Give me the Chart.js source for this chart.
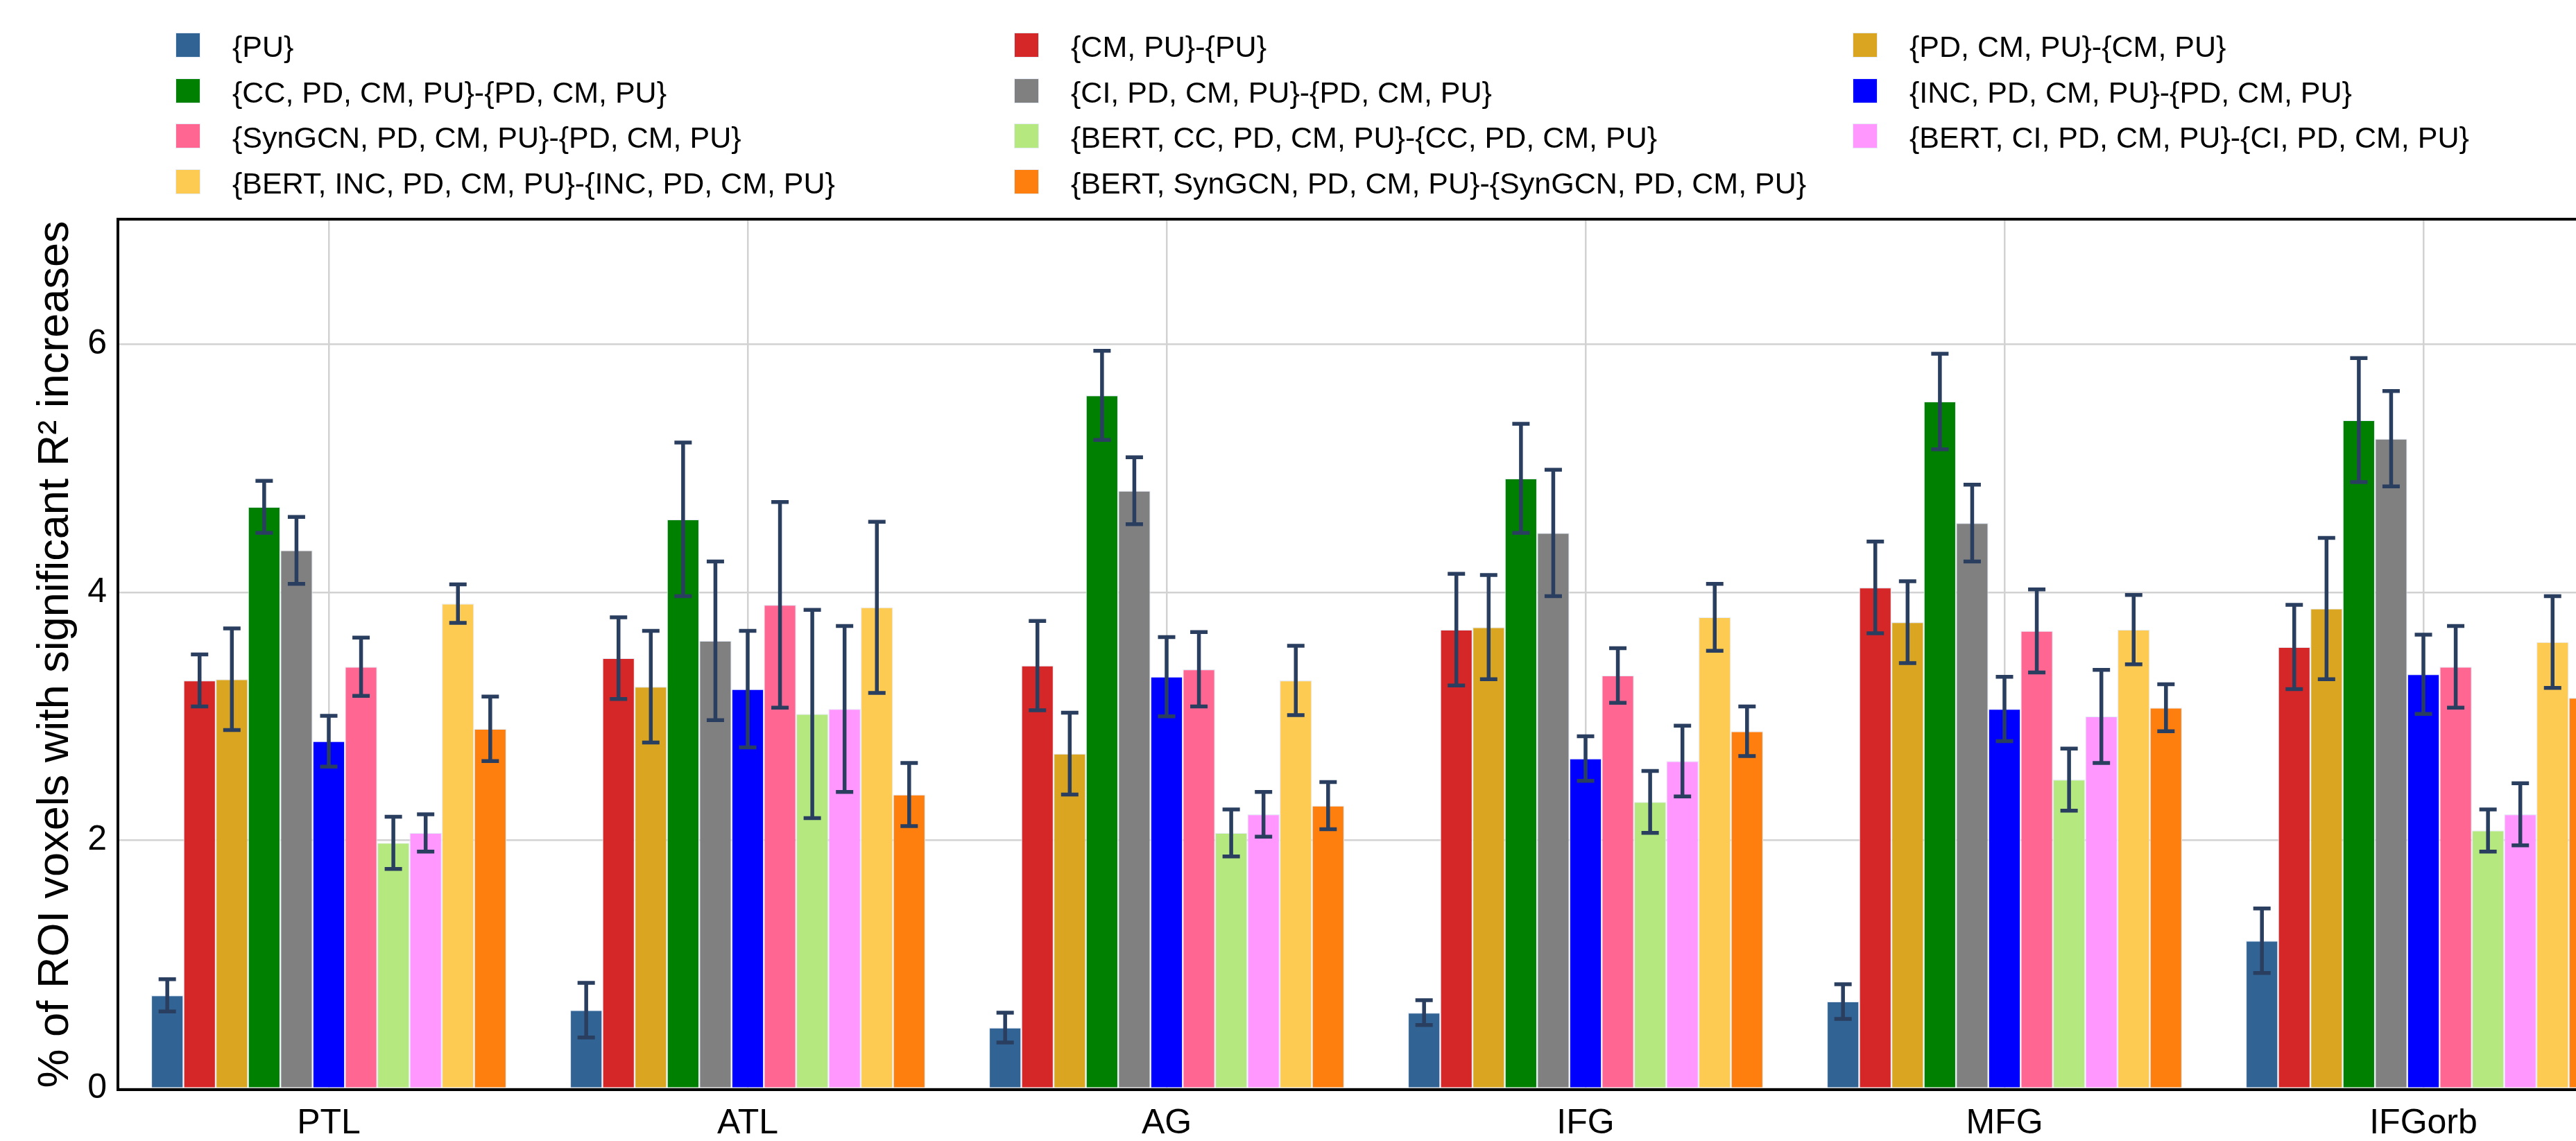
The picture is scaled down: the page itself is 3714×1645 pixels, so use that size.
<!DOCTYPE html>
<html>
<head>
<meta charset="utf-8">
<script src="https://cdn.jsdelivr.net/npm/chart.js@4.4.1/dist/chart.umd.min.js"></script>
<style>
  html, body { margin: 0; padding: 0; background: #ffffff; overflow: hidden; width: 3714px; height: 1645px; }
  #wrap { position: relative; width: 3800px; height: 1645px; }
  #c { position: absolute; left: 0; top: 0; }
  #legend { position: absolute; left: 0; top: 0; width: 3714px; height: 300px; font-family: "Liberation Sans", Arial, sans-serif; font-size: 43px; color: #000; }
  .li { position: absolute; height: 36px; white-space: nowrap; }
  .sw { position: absolute; left: 0; top: 0; width: 34px; height: 34px; border: 1px solid #E5ECF6; }
  .tx { position: absolute; left: 82px; top: -3px; line-height: 46px; }
</style>
</head>
<body>
<div id="wrap">
  <canvas id="c" width="3800" height="1645"></canvas>
  <div id="legend"></div>
</div>
<script>
// ---- data ----
const categories = ['PTL', 'ATL', 'AG', 'IFG', 'MFG', 'IFGorb'];
const seriesLabels = [
  '{PU}',
  '{CM, PU}-{PU}',
  '{PD, CM, PU}-{CM, PU}',
  '{CC, PD, CM, PU}-{PD, CM, PU}',
  '{CI, PD, CM, PU}-{PD, CM, PU}',
  '{INC, PD, CM, PU}-{PD, CM, PU}',
  '{SynGCN, PD, CM, PU}-{PD, CM, PU}',
  '{BERT, CC, PD, CM, PU}-{CC, PD, CM, PU}',
  '{BERT, CI, PD, CM, PU}-{CI, PD, CM, PU}',
  '{BERT, INC, PD, CM, PU}-{INC, PD, CM, PU}',
  '{BERT, SynGCN, PD, CM, PU}-{SynGCN, PD, CM, PU}'
];
const seriesColors = ['#316395', '#D62728', '#DAA520', '#008000', '#808080', '#0000FF',
                      '#FF6692', '#B6E880', '#FF97FF', '#FECB52', '#FF7F0E'];

const puVals        = [0.75, 0.63, 0.49, 0.61, 0.70, 1.19];
const puErr         = [0.13, 0.22, 0.12, 0.10, 0.14, 0.26];
const cmVals        = [3.29, 3.47, 3.41, 3.70, 4.04, 3.56];
const cmErr         = [0.21, 0.33, 0.36, 0.45, 0.37, 0.34];
const pdVals        = [3.30, 3.24, 2.70, 3.72, 3.76, 3.87];
const pdErr         = [0.41, 0.45, 0.33, 0.42, 0.33, 0.57];
const ccVals        = [4.69, 4.59, 5.59, 4.92, 5.54, 5.39];
const ccErr         = [0.21, 0.62, 0.36, 0.44, 0.385, 0.50];
const ciVals        = [4.34, 3.61, 4.82, 4.48, 4.56, 5.24];
const ciErr         = [0.27, 0.64, 0.27, 0.51, 0.31, 0.385];
const incVals       = [2.80, 3.22, 3.32, 2.66, 3.06, 3.34];
const incErr        = [0.205, 0.47, 0.32, 0.18, 0.26, 0.32];
const syngcnVals    = [3.40, 3.90, 3.38, 3.33, 3.69, 3.40];
const syngcnErr     = [0.235, 0.83, 0.30, 0.22, 0.335, 0.33];
const bertCcVals    = [1.98, 3.02, 2.06, 2.31, 2.49, 2.08];
const bertCcErr     = [0.21, 0.84, 0.19, 0.25, 0.25, 0.17];
const bertCiVals    = [2.06, 3.06, 2.21, 2.64, 3.00, 2.21];
const bertCiErr     = [0.15, 0.67, 0.18, 0.285, 0.375, 0.25];
const bertIncVals   = [3.91, 3.88, 3.29, 3.80, 3.70, 3.60];
const bertIncErr    = [0.155, 0.69, 0.28, 0.27, 0.28, 0.37];
const bertSynVals   = [2.90, 2.37, 2.28, 2.88, 3.07, 3.15];
const bertSynErr    = [0.26, 0.255, 0.19, 0.20, 0.19, 0.25];

const yTickValues = [0, 2, 4, 6];
const yAxisTitle = '% of ROI voxels with significant R\u00B2 increases';

const allVals = [puVals, cmVals, pdVals, ccVals, ciVals, incVals, syngcnVals, bertCcVals, bertCiVals, bertIncVals, bertSynVals];
const allErrs = [puErr, cmErr, pdErr, ccErr, ciErr, incErr, syngcnErr, bertCcErr, bertCiErr, bertIncErr, bertSynErr];

// ---- chart ----
const FONT = '"Liberation Sans", Arial, sans-serif';
const AREA = { left: 172, top: 318, right: 3796, bottom: 1569 };
const CW = 3800, CH = 1645;

const datasets = seriesLabels.map((lab, i) => ({
  label: lab,
  data: allVals[i],
  errors: allErrs[i],
  backgroundColor: seriesColors[i],
  borderColor: '#E5ECF6',
  borderWidth: 1.2,
  categoryPercentage: 0.848,
  barPercentage: 1.0
}));

const errorBarPlugin = {
  id: 'errorBars',
  afterDatasetsDraw(chart) {
    const ctx = chart.ctx;
    const ys = chart.scales.y;
    ctx.save();
    ctx.strokeStyle = '#2a3f5f';
    ctx.lineWidth = 5.5;
    ctx.lineCap = 'butt';
    chart.data.datasets.forEach((ds, i) => {
      const meta = chart.getDatasetMeta(i);
      meta.data.forEach((bar, j) => {
        const v = ds.data[j], e = ds.errors[j];
        const x = bar.x;
        const yt = ys.getPixelForValue(v + e);
        const yb = ys.getPixelForValue(v - e);
        const hw = 12.5;
        ctx.beginPath();
        ctx.moveTo(x, yt); ctx.lineTo(x, yb);
        ctx.moveTo(x - hw, yt); ctx.lineTo(x + hw, yt);
        ctx.moveTo(x - hw, yb); ctx.lineTo(x + hw, yb);
        ctx.stroke();
      });
    });
    ctx.restore();
  }
};

const framePlugin = {
  id: 'frame',
  afterDraw(chart) {
    const a = chart.chartArea;
    const ctx = chart.ctx;
    ctx.save();
    ctx.strokeStyle = '#000000';
    ctx.lineWidth = 4;
    ctx.beginPath();
    ctx.rect(a.left - 2, a.top - 2, (a.right - a.left) + 4, (a.bottom - a.top) + 4);
    ctx.stroke();
    ctx.restore();
  }
};

const chart = new Chart(document.getElementById('c'), {
  type: 'bar',
  data: { labels: categories, datasets },
  options: {
    responsive: false,
    animation: false,
    devicePixelRatio: 1,
    layout: { padding: { left: 0, top: AREA.top, right: CW - AREA.right, bottom: 0 } },
    plugins: { legend: { display: false }, tooltip: { enabled: false } },
    scales: {
      x: {
        offset: true,
        grid: { display: true, offset: false, color: '#d2d2d2', lineWidth: 2.5, drawTicks: false },
        border: { display: false },
        ticks: { color: '#000', font: { family: FONT, size: 50 }, padding: 21, maxRotation: 0, autoSkip: false },
        afterFit(scale) { scale.height = CH - AREA.bottom; }
      },
      y: {
        min: 0, max: 7,
        grid: { color: '#d2d2d2', lineWidth: 2.5, drawTicks: false },
        border: { display: false },
        afterBuildTicks(scale) { scale.ticks = yTickValues.map(v => ({ value: v })); },
        ticks: { color: '#000', font: { family: FONT, size: 50 }, padding: 18 },
        title: {
          display: true, text: yAxisTitle, color: '#000',
          font: { family: FONT, size: 63, weight: 'normal' },
          padding: { top: 43, bottom: 0 }
        },
        afterFit(scale) { scale.width = AREA.left; }
      }
    }
  },
  plugins: [errorBarPlugin, framePlugin]
});

// ---- legend built from the chart's datasets ----
const legendEl = document.getElementById('legend');
const colX = [253, 1462, 2671];
const rowY = [47, 113, 178, 244];
chart.data.datasets.forEach((ds, i) => {
  const item = document.createElement('div');
  item.className = 'li';
  item.style.left = colX[i % 3] + 'px';
  item.style.top = rowY[Math.floor(i / 3)] + 'px';
  const sw = document.createElement('div');
  sw.className = 'sw';
  sw.style.background = ds.backgroundColor;
  const tx = document.createElement('div');
  tx.className = 'tx';
  tx.textContent = ds.label;
  item.appendChild(sw); item.appendChild(tx);
  legendEl.appendChild(item);
});
</script>
</body>
</html>
